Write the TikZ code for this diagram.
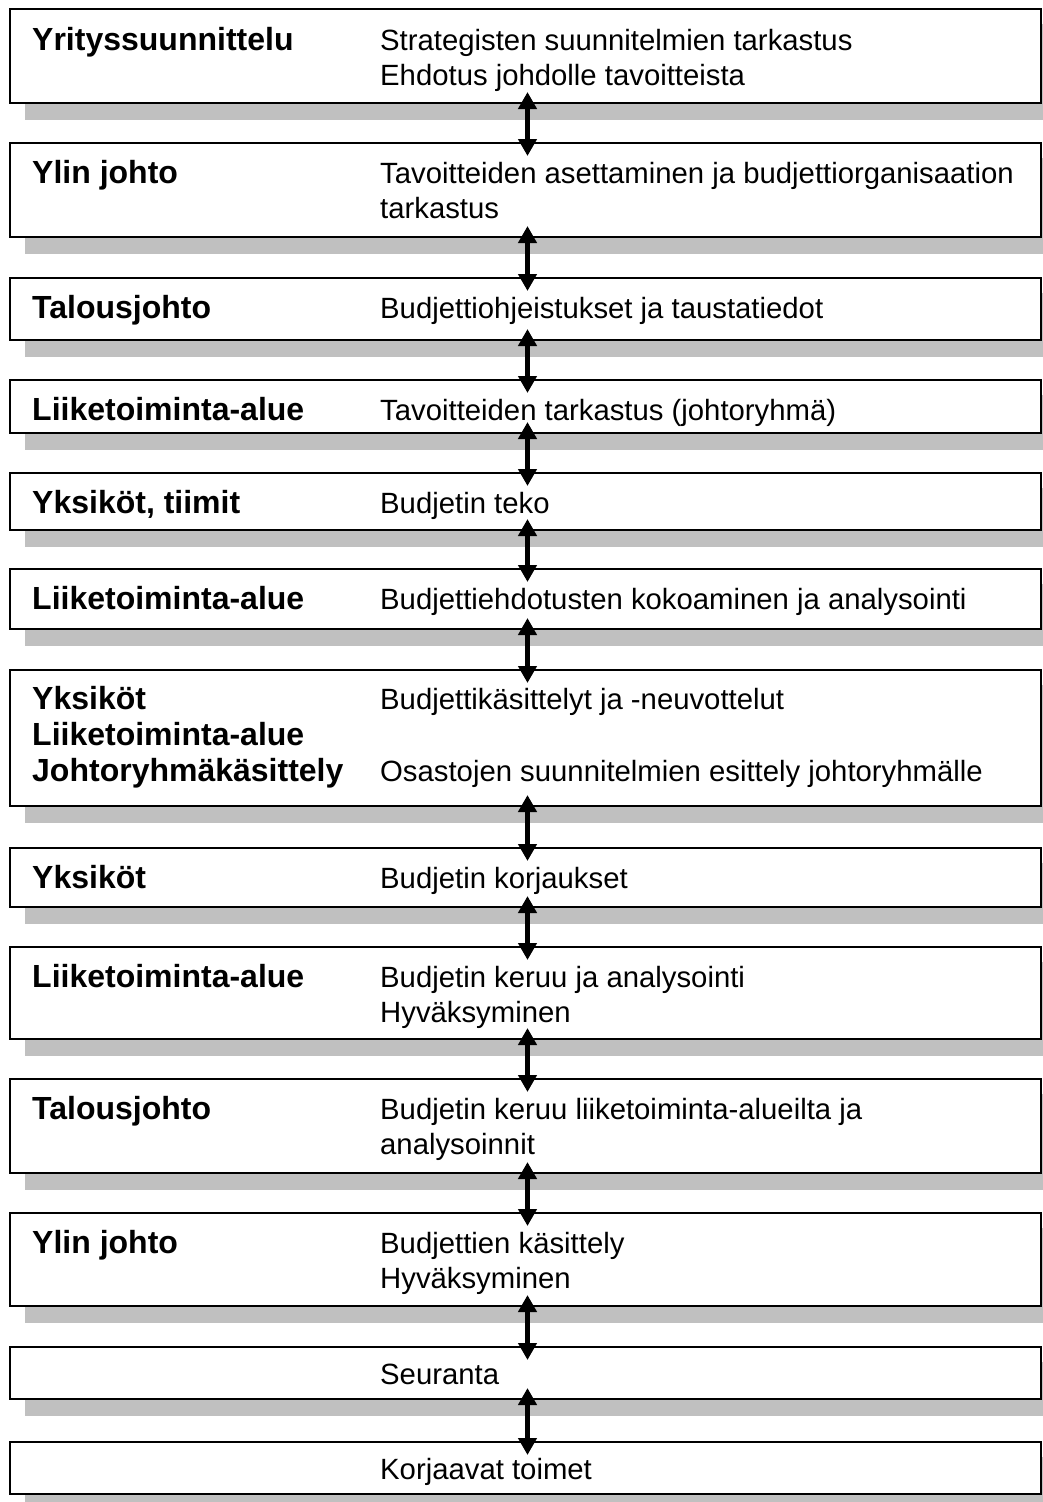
\documentclass[tikz,border=0pt]{standalone}
\usepackage{fontspec}
\setmainfont{Liberation Sans}
\usetikzlibrary{arrows.meta,backgrounds}
\definecolor{shadowgray}{HTML}{C0C0C0}
\tikzset{
  stage/.style={draw=black, line width=2pt, fill=white, rectangle, inner sep=0pt,
    minimum width=1031pt},
  who/.style={anchor=base west, inner sep=0pt, font=\fontsize{32}{36}\selectfont\bfseries},
  what/.style={anchor=base west, inner sep=0pt, font=\fontsize{29.3}{36}\selectfont},
  link/.style={line width=5pt, {Triangle[width=18pt,length=17pt]}-{Triangle[width=18pt,length=17pt]}},
  shade/.style={fill=shadowgray}
}
% place a stage box given top and bottom (image coordinates, y downward)
\newcommand{\stagebox}[3]{%
  \node[stage, minimum height={#3-#2}] (#1) at (525.5,{(#2+#3)/2}) {};}
\begin{document}
\begin{tikzpicture}[x=1pt,y=-1pt]
\useasboundingbox (0,0) rectangle (1043,1502);
\clip (0,0) rectangle (1043,1502);

% stage boxes
\stagebox{b1}{9}{103}
\stagebox{b2}{143}{237}
\stagebox{b3}{278}{340}
\stagebox{b4}{380}{433}
\stagebox{b5}{473}{530}
\stagebox{b6}{569}{629}
\stagebox{b7}{670}{806}
\stagebox{b8}{848}{907}
\stagebox{b9}{947}{1039}
\stagebox{b10}{1079}{1173}
\stagebox{b11}{1213}{1306}
\stagebox{b12}{1347}{1399}
\stagebox{b13}{1442}{1494}

% drop shadows behind the boxes
\begin{scope}[on background layer]
\foreach \b in {b1,b2,b3,b4,b5,b6,b7,b8,b9,b10,b11,b12,b13}
  \fill[shade] ([shift={(16pt,-16pt)}]\b.south west) rectangle ([shift={(16pt,-16pt)}]\b.north east);
\end{scope}

% actors (left column)
\node[who] (w1) at (32,50) {Yrityssuunnittelu};
\node[who] (w2) at (32,183) {Ylin johto};
\node[who] (w3) at (32,318) {Talousjohto};
\node[who] (w4) at (32,420) {Liiketoiminta-alue};
\node[who] (w5) at (32,513) {Yksiköt, tiimit};
\node[who] (w6) at (32,609) {Liiketoiminta-alue};
\node[who] (w7a) at (32,709) {Yksiköt};
\node[who] (w7b) at (32,745) {Liiketoiminta-alue};
\node[who] (w7c) at (32,781) {Johtoryhmäkäsittely};
\node[who] (w8) at (32,888) {Yksiköt};
\node[who] (w9) at (32,987) {Liiketoiminta-alue};
\node[who] (w10) at (32,1119) {Talousjohto};
\node[who] (w11) at (32,1253) {Ylin johto};

% tasks (right column)
\node[what] (t1a) at (380,50) {Strategisten suunnitelmien tarkastus};
\node[what] (t1b) at (380,85) {Ehdotus johdolle tavoitteista};
\node[what] (t2a) at (380,183) {Tavoitteiden asettaminen ja budjettiorganisaation};
\node[what] (t2b) at (380,218) {tarkastus};
\node[what] (t3) at (380,318) {Budjettiohjeistukset ja taustatiedot};
\node[what] (t4) at (380,420) {Tavoitteiden tarkastus (johtoryhmä)};
\node[what] (t5) at (380,513) {Budjetin teko};
\node[what] (t6) at (380,609) {Budjettiehdotusten kokoaminen ja analysointi};
\node[what] (t7a) at (380,709) {Budjettikäsittelyt ja -neuvottelut};
\node[what] (t7b) at (380,781) {Osastojen suunnitelmien esittely johtoryhmälle};
\node[what] (t8) at (380,888) {Budjetin korjaukset};
\node[what] (t9a) at (380,987) {Budjetin keruu ja analysointi};
\node[what] (t9b) at (380,1022) {Hyväksyminen};
\node[what] (t10a) at (380,1119) {Budjetin keruu liiketoiminta-alueilta ja};
\node[what] (t10b) at (380,1154) {analysoinnit};
\node[what] (t11a) at (380,1253) {Budjettien käsittely};
\node[what] (t11b) at (380,1288) {Hyväksyminen};
\node[what] (t12) at (380,1384) {Seuranta};
\node[what] (t13) at (380,1479) {Korjaavat toimet};

% two-way links between consecutive stages
\foreach \a/\c in {b1/b2,b2/b3,b3/b4,b4/b5,b5/b6,b6/b7,b7/b8,b8/b9,b9/b10,b10/b11,b11/b12,b12/b13}
  \draw[link] ([shift={(2pt,12pt)}]\a.south) -- ([shift={(2pt,-14pt)}]\c.north);
\end{tikzpicture}
\end{document}
